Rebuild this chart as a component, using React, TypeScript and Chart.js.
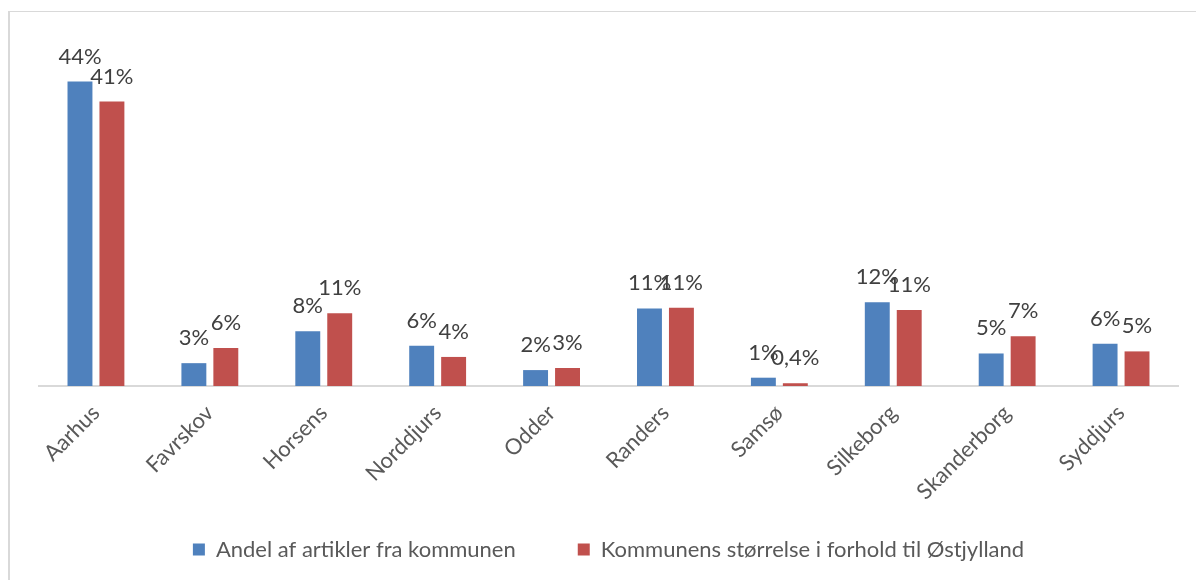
import React, { useEffect, useRef } from "react";
import { Chart, registerables } from "chart.js";

Chart.register(...registerables);

const categories = ["Aarhus", "Favrskov", "Horsens", "Norddjurs", "Odder", "Randers", "Samsø", "Silkeborg", "Skanderborg", "Syddjurs"];
const seriesNames = ["Andel af artikler fra kommunen", "Kommunens størrelse i forhold til Østjylland"];
const articleShare = [44, 3.3, 7.9, 5.8, 2.3, 11.2, 1.2, 12.1, 4.7, 6.1];
const sizeShare = [41.1, 5.5, 10.5, 4.2, 2.6, 11.3, 0.4, 11.0, 7.2, 5.0];
const articleLabels = ["44%", "3%", "8%", "6%", "2%", "11%", "1%", "12%", "5%", "6%"];
const sizeLabels = ["41%", "6%", "11%", "4%", "3%", "11%", "0,4%", "11%", "7%", "5%"];
const colors = ["#4F81BD", "#C0504D"];

const FONT = "Lato, 'Open Sans', sans-serif";

const dataLabelPlugin = {
  id: "dataLabels",
  afterDatasetsDraw(chart: any) {
    const ctx = chart.ctx;
    const labelSets = [articleLabels, sizeLabels];
    ctx.save();
    ctx.font = `22px ${FONT}`;
    ctx.fillStyle = "#404040";
    ctx.textAlign = "center";
    ctx.textBaseline = "alphabetic";
    chart.data.datasets.forEach((ds: any, di: number) => {
      const meta = chart.getDatasetMeta(di);
      meta.data.forEach((bar: any, i: number) => {
        ctx.fillText(labelSets[di][i], bar.x, bar.y - 18);
      });
    });
    ctx.restore();
  },
};

export default function App() {
  const ref = useRef<HTMLCanvasElement>(null);
  useEffect(() => {
    if (!ref.current) return;
    const chart = new Chart(ref.current, {
      type: "bar",
      data: {
        labels: categories,
        datasets: [
          { label: seriesNames[0], data: articleShare, backgroundColor: colors[0], categoryPercentage: 0.561, barPercentage: 0.78 },
          { label: seriesNames[1], data: sizeShare, backgroundColor: colors[1], categoryPercentage: 0.561, barPercentage: 0.78 },
        ],
      },
      options: {
        animation: false,
        responsive: false,
        devicePixelRatio: 1,
        layout: { padding: { left: 39, right: 18, top: 40, bottom: 9.5 } },
        plugins: {
          legend: {
            position: "bottom",
            labels: {
              boxWidth: 12,
              boxHeight: 12,
              padding: 62,
              color: "#595959",
              font: { family: FONT, size: 22 },
            },
          },
          tooltip: { enabled: false },
        },
        scales: {
          x: {
            grid: { display: false },
            border: { display: true, color: "#d9d9d9", width: 2 },
            ticks: {
              color: "#595959",
              font: { family: FONT, size: 22 },
              minRotation: 45,
              maxRotation: 45,
              padding: 6,
            },
            afterFit(scale: any) {
              scale.height = 90.5;
              // let rotated labels extend below the axis box without being clipped
              scale._computeLabelArea = () => undefined;
            },
          },
          y: {
            display: false,
            min: 0,
            max: 50,
          },
        },
      },
      plugins: [dataLabelPlugin],
    });
    return () => chart.destroy();
  }, []);

  return (
    <div style={{ position: "fixed", left: 0, top: 0, width: 1196, height: 580, overflow: "hidden", background: "#fff" }}>
      <div
        style={{
          position: "absolute",
          left: 8,
          top: 11,
          width: 1400,
          height: 900,
          borderLeft: "2px solid #d9d9d9",
          borderTop: "1px solid #d9d9d9",
        }}
      />
      <canvas ref={ref} width={1196} height={580} style={{ position: "absolute", left: 0, top: 0 }} />
    </div>
  );
}
